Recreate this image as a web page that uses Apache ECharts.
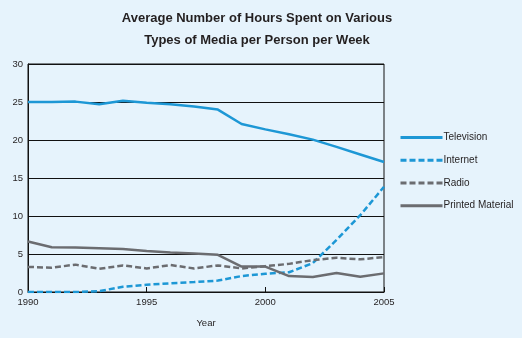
<!DOCTYPE html>
<html>
<head>
<meta charset="utf-8">
<script src="https://cdn.jsdelivr.net/npm/echarts@6/dist/echarts.min.js"></script>
<style>
  html, body { margin: 0; padding: 0; background: #e6f3fc; }
  #chart { width: 522px; height: 338px; }
</style>
</head>
<body>
<div id="chart"></div>
<script>
// Weekly hours per person by medium, 1990–2005
const years = [1990, 1991, 1992, 1993, 1994, 1995, 1996, 1997, 1998, 1999, 2000, 2001, 2002, 2003, 2004, 2005];
const television = [25.0, 25.0, 25.05, 24.7, 25.15, 24.9, 24.7, 24.4, 24.0, 22.1, 21.4, 20.75, 20.05, 19.1, 18.1, 17.1];
const internet   = [0.0, 0.0, 0.0, 0.1, 0.7, 0.95, 1.15, 1.3, 1.5, 2.1, 2.4, 2.6, 3.8, 6.85, 10.1, 13.85];
const radio      = [3.3, 3.2, 3.6, 3.05, 3.5, 3.1, 3.55, 3.1, 3.5, 3.1, 3.4, 3.7, 4.2, 4.5, 4.3, 4.6];
const printed    = [6.65, 5.9, 5.85, 5.75, 5.65, 5.4, 5.2, 5.05, 4.9, 3.35, 3.35, 2.1, 1.97, 2.5, 2.0, 2.45];
const yTicks = [0, 5, 10, 15, 20, 25, 30];

const blue = '#1d97d5';
const grey = '#6b6c70';
const font = '"Liberation Sans", Arial, sans-serif';

const pairs = arr => years.map((y, i) => [y, arr[i]]);

const chart = echarts.init(document.getElementById('chart'), null, { renderer: 'canvas' });
chart.setOption({
  backgroundColor: '#e6f3fc',
  animation: false,
  title: {
    text: 'Average Number of Hours Spent on Various\nTypes of Media per Person per Week',
    left: 252, top: 2, textAlign: 'center',
    textStyle: { fontFamily: font, fontSize: 13, fontWeight: 'bold', color: '#231f20', lineHeight: 22 }
  },
  grid: { left: 28, right: 138, top: 64, bottom: 46, show: true, borderColor: '#111', borderWidth: 1, backgroundColor: 'transparent' },
  legend: {
    orient: 'vertical', left: 394, top: 127, itemGap: 11.5,
    itemWidth: 42, itemHeight: 14,
    itemStyle: { opacity: 0 },
    lineStyle: { width: 3 },
    textStyle: { fontFamily: font, fontSize: 10, color: '#231f20', padding: [0, 0, 0, -4] },
    data: ['Television', 'Internet', 'Radio', 'Printed Material']
  },
  xAxis: {
    type: 'value', min: 1990, max: 2005, interval: 5,
    name: 'Year', nameLocation: 'middle', nameGap: 26,
    nameTextStyle: { fontFamily: font, fontSize: 9.5, color: '#231f20' },
    axisLine: { lineStyle: { color: '#111', width: 1 } },
    axisTick: { inside: true, length: 5, lineStyle: { color: '#111' } },
    axisLabel: { fontFamily: font, fontSize: 9.5, color: '#231f20', margin: 5, formatter: v => String(v) },
    splitLine: { show: false }
  },
  yAxis: {
    type: 'value', min: yTicks[0], max: yTicks[yTicks.length - 1], interval: 5,
    axisLine: { show: true, lineStyle: { color: '#111', width: 1 } },
    axisTick: { show: false },
    axisLabel: { fontFamily: font, fontSize: 9.5, color: '#231f20', margin: 5 },
    splitLine: { show: true, lineStyle: { color: '#111', width: 1 } }
  },
  series: [
    { name: 'Television', type: 'line', data: pairs(television), symbol: 'none', color: blue,
      lineStyle: { color: blue, width: 2.5 } },
    { name: 'Internet', type: 'line', data: pairs(internet), symbol: 'none', color: blue,
      lineStyle: { color: blue, width: 2.5, type: [6, 3] } },
    { name: 'Radio', type: 'line', data: pairs(radio), symbol: 'none', color: grey,
      lineStyle: { color: grey, width: 2.5, type: [6, 3] } },
    { name: 'Printed Material', type: 'line', data: pairs(printed), symbol: 'none', color: grey,
      lineStyle: { color: grey, width: 2.5 } }
  ]
});
</script>
</body>
</html>
